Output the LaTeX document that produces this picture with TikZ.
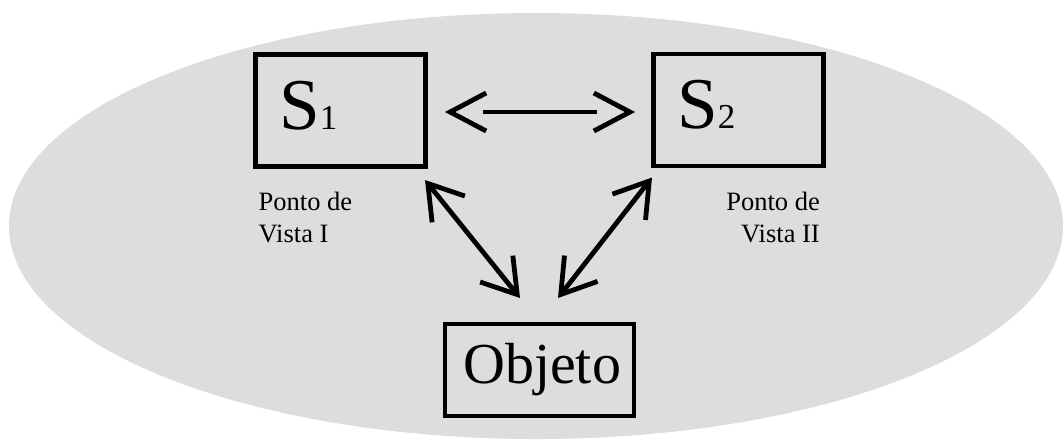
\documentclass[tikz,border=0pt]{standalone}
\usepackage{fontspec}
\setmainfont{Liberation Serif}
\usetikzlibrary{arrows.meta}
\definecolor{bggray}{RGB}{221,221,221}
\tikzset{
  box/.style={draw=black, line width=4.5pt, rectangle, inner sep=0pt, outer sep=0pt},
  conn/.style={draw=black, line width=4.8pt},
  hbarb/.style={{Straight Barb[length=36pt,width=38pt]}-{Straight Barb[length=36pt,width=38pt]}},
  dbarb/.style={{Straight Barb[length=33pt,width=42pt]}-{Straight Barb[length=33pt,width=42pt]}},
  lbl/.style={inner sep=0pt, font=\fontsize{26.5}{32}\selectfont}
}
\begin{document}
\begin{tikzpicture}[x=1pt,y=-1pt]
\useasboundingbox (0,0) rectangle (1064,439);
\fill[bggray] (536,226) ellipse [x radius=527, y radius=213];

\node[box, minimum width=170pt, minimum height=112pt] (s1) at (340.5,110.5) {};
\node[box, minimum width=170pt, minimum height=112pt] (s2) at (738.5,110) {};
\node[box, minimum width=189pt, minimum height=92pt] (obj) at (539.5,370) {};

\node[inner sep=0pt, anchor=base west] (t1) at (279,129)
  {{\fontsize{73}{73}\selectfont S}{\fontsize{35}{35}\selectfont 1}};
\node[inner sep=0pt, anchor=base west] (t2) at (677,128)
  {{\fontsize{73}{73}\selectfont S}{\fontsize{35}{35}\selectfont 2}};
\node[inner sep=0pt, anchor=base west] (t3) at (463,383)
  {\fontsize{58}{58}\selectfont Objeto};

\node[lbl, anchor=base west, align=left] (pv1) at (258.5,242) {Ponto de\\Vista I};
\node[lbl, anchor=base east, align=right] (pv2) at (820,242) {Ponto de\\Vista II};

% horizontal double arrow: heads and a shaft that stops short of them
\path[conn, draw=none, tips, hbarb] ([shift={(19.5,1.5)}]s1.east) -- ([shift={(-18.5,2)}]s2.west);
\draw[conn, shorten <=38pt, shorten >=38pt] ([shift={(19.5,1.5)}]s1.east) -- ([shift={(-18.5,2)}]s2.west);

\draw[conn, dbarb] ([shift={(-0.5,13.5)}]s1.south east) -- ([shift={(-19.5,-26)}]obj.north);
\draw[conn, dbarb] ([shift={(-1.5,11.5)}]s2.south west) -- ([shift={(18.5,-26)}]obj.north);
\end{tikzpicture}
\end{document}
